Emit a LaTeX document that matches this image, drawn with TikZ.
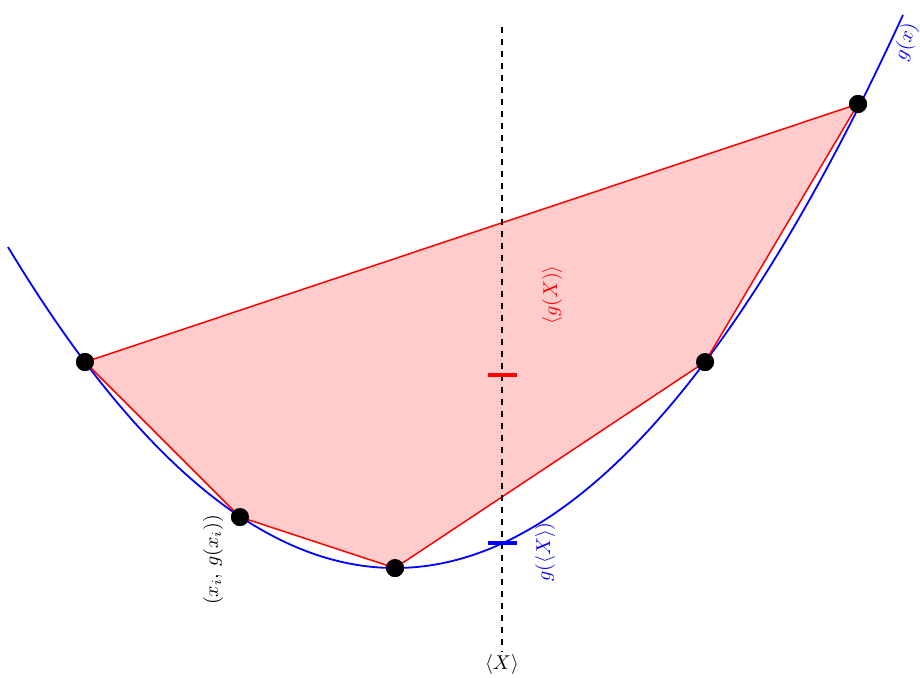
\documentclass[tikz,border=0pt]{standalone}
\begin{document}
\begin{tikzpicture}[x=0.5pt,y=-0.5pt,
  dot/.style={circle,fill=black,inner sep=0pt,minimum size=9pt},
  lbl/.style={inner sep=1pt}]
\useasboundingbox (0,0) rectangle (920,677);
\node[dot] (p1) at (85,362) {};
\node[dot] (p2) at (240,517) {};
\node[dot] (p3) at (395,568) {};
\node[dot] (p4) at (705,362) {};
\node[dot] (p5) at (858,104) {};
\fill[red!20] (p1.center) -- (p2.center) -- (p3.center) -- (p4.center) -- (p5.center) -- cycle;
\draw[blue,line width=0.9pt] plot[domain=8:903,samples=150,smooth] (\x,{568-(0.0463*(\x-395))^2});
\draw[red,line width=0.75pt] (p1.center) -- (p2.center) -- (p3.center) -- (p4.center) -- (p5.center) -- cycle;
\foreach \p in {p1,p2,p3,p4,p5} \node[dot] at (\p) {};
\coordinate (dtop) at (502,27);
\node[lbl] (xm) at (502,664) {$\langle X\rangle$};
\draw[dashed,line width=0.7pt] (dtop) -- (xm.north);
\coordinate (rt1) at (488,375); \coordinate (rt2) at (517,375);
\coordinate (bt1) at (488,543); \coordinate (bt2) at (517,543);
\draw[red,line width=2pt] (rt1) -- (rt2);
\draw[blue,line width=2pt] (bt1) -- (bt2);
\node[lbl,red,rotate=90] (lg) at (552,295) {$\langle g(X)\rangle$};
\node[lbl,blue,rotate=90] (gl) at (545,552) {$g(\langle X\rangle)$};
\node[lbl,rotate=90] (pl) at (213,560) {$(x_i,\,g(x_i))$};
\node[inner sep=0pt,blue,rotate=74] (gx) at (906,42) {$g(x)$};
\end{tikzpicture}
\end{document}
